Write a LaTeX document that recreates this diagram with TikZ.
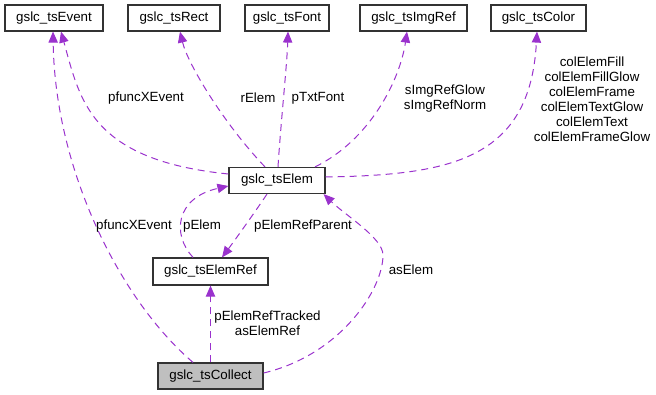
\documentclass[tikz,border=0pt]{standalone}
\usepackage[usenames,dvipsnames]{xcolor}
\usepackage{fontspec}
\setmainfont{Liberation Sans}
\usepackage{tikz}
\usetikzlibrary{arrows.meta,calc}

\definecolor{relcol}{HTML}{9A32CD}
\definecolor{boxline}{HTML}{333333}
\definecolor{mainfill}{HTML}{BFBFBF}

\begin{document}
\begin{tikzpicture}[x=0.75pt, y=-0.75pt,
    every node/.style={font=\fontsize{10}{11.25}\selectfont, inner sep=0pt},
    cls/.style={draw=boxline, line width=0.9pt, fill=white, minimum height=19.5pt},
    rel/.style={relcol, line width=0.75pt, dash pattern=on 5.25pt off 3.75pt,
        -{Triangle[length=8.25pt, width=7pt]}},
    lbl/.style={align=center}]
    \useasboundingbox (0,0) rectangle (656,395);
    \node[cls, minimum width=73.5pt] (ev) at (54,18) {gslc\_tsEvent};
    \node[cls, minimum width=69pt] (rect) at (174,18) {gslc\_tsRect};
    \node[cls, minimum width=63pt] (font) at (287,18) {gslc\_tsFont};
    \node[cls, minimum width=80.25pt] (imgref) at (413.5,18) {gslc\_tsImgRef};
    \node[cls, minimum width=71.25pt] (color) at (538.5,18) {gslc\_tsColor};
    \node[cls, minimum width=72pt] (elem) at (277,180.5) {gslc\_tsElem};
    \node[cls, minimum width=86.25pt, minimum height=20.25pt] (elemref) at (210.5,271.5) {gslc\_tsElemRef};
    \node[cls, minimum width=78.75pt, fill=mainfill] (collect) at (210.5,376) {gslc\_tsCollect};

    \draw[rel] ($(collect.north)+(-17.5,0)$) .. controls (120,300) and (55,170) .. ($(ev.south)+(-1,0)$);
    \draw[rel] ($(elem.west)+(0,-6.5)$) .. controls (90,160) and (80,100) .. ($(ev.south)+(7,0)$);
    \draw[rel] ($(elem.north)+(-12,0)$) .. controls (225,125) and (188,65) .. ($(rect.south)+(6,0)$);
    \draw[rel] ($(elem.north)+(1,0)$) .. controls (281,120) and (287,65) .. ($(font.south)+(1,0)$);
    \draw[rel] ($(elem.north)+(38,0)$) .. controls (370,140) and (400,80) .. ($(imgref.south)+(-6.5,0)$);
    \draw[rel] ($(elem.east)+(0,-3.5)$) .. controls (450,175) and (530,160) .. ($(color.south)+(-1.5,0)$);
    \draw[rel] ($(elemref.north)+(-17.5,0)$) .. controls (172,235) and (175,198) .. ($(elem.west)+(0,5.5)$);
    \draw[rel] ($(elem.south)+(-10,0)$) .. controls (255,212) and (235,240) .. ($(elemref.north)+(11.5,0)$);
    \draw[rel] (collect.north) -- (elemref.south);
    \draw[rel] ($(collect.east)+(0,-3)$) .. controls (340,355) and (383,290) .. (383,255)
        .. controls (383,238) and (345,215) .. ($(elem.south east)+(-2,0)$);

    \node[lbl] (l1) at (134,226) {pfuncXEvent};
    \node[lbl] (l2) at (146,98) {pfuncXEvent};
    \node[lbl] (l3) at (258,98) {rElem};
    \node[lbl] (l4) at (318,98) {pTxtFont};
    \node[lbl] (l5) at (445,99) {sImgRefGlow\\sImgRefNorm};
    \node[lbl] (l6) at (592,99) {colElemFill\\colElemFillGlow\\colElemFrame\\colElemTextGlow\\colElemText\\colElemFrameGlow};
    \node[lbl] (l7) at (202,226) {pElem};
    \node[lbl] (l8) at (303,226) {pElemRefParent};
    \node[lbl] (l9) at (267.5,323) {pElemRefTracked\\asElemRef};
    \node[lbl] (l10) at (411,270) {asElem};
\end{tikzpicture}
\end{document}
